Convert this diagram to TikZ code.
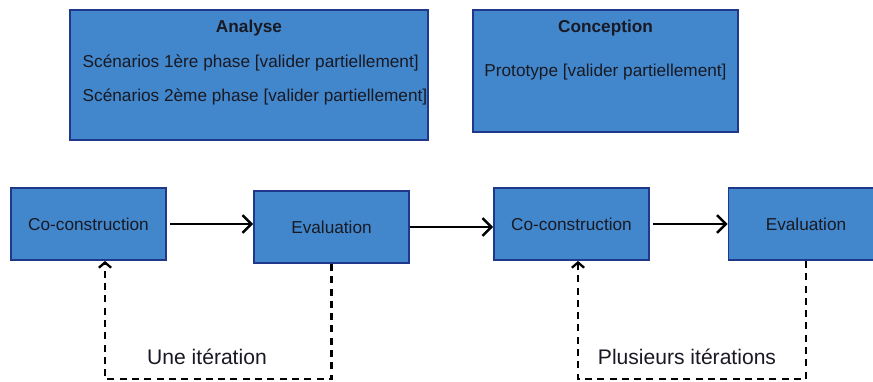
\documentclass[tikz,border=0pt]{standalone}
\usepackage{fontspec}
\setmainfont{Liberation Sans}
\usetikzlibrary{calc,arrows.meta}
\definecolor{boxblue}{RGB}{66,135,204}
\definecolor{boxedge}{RGB}{31,56,140}
\definecolor{ink}{RGB}{25,25,35}

\begin{document}
\begin{tikzpicture}[x=0.02cm,y=-0.02cm,thick,every node/.style={scale=1,text=ink},
  >={Straight Barb[length=5pt,width=10pt]},
  phase/.style={draw=boxedge,fill=boxblue,line width=1.1pt,inner sep=0pt},
  etape/.style={phase,minimum width=3.1cm,minimum height=1.44cm,font=\fontsize{9.8}{12}\selectfont},
  boxtext/.style={font=\fontsize{9.8}{12}\selectfont,inner sep=0pt},
  suite/.style={->,line width=1.4pt},
  retour/.style={-{Straight Barb[length=3pt,width=7pt]},dash pattern=on 4pt off 3pt,line width=1.3pt}]
\useasboundingbox (0,0) rectangle (873,382);
% phases du haut
\node[phase,minimum width=7.16cm,minimum height=2.6cm] (analyse) at (249,75) {};
\node[boxtext,font=\fontsize{9.8}{12}\selectfont\bfseries] (analyseT) at (249,28) {Analyse};
\node[boxtext,right] (sc1) at (82,63) {Scénarios 1ère phase [valider partiellement]};
\node[boxtext,right] (sc2) at (82,97) {Scénarios 2ème phase [valider partiellement]};
\node[phase,minimum width=5.3cm,minimum height=2.44cm] (concep) at (605.5,71) {};
\node[boxtext,font=\fontsize{9.8}{12}\selectfont\bfseries] (concepT) at (605.5,28) {Conception};
\node[boxtext] (proto) at (605.5,72) {Prototype [valider partiellement]};
% etapes
\node[etape] (co1) at (88.5,224) {Co-construction};
\node[etape] (ev1) at (331.5,227) {Evaluation};
\node[etape] (co2) at (571.5,224) {Co-construction};
\node[etape] (ev2) at (806,224) {Evaluation};
\draw[suite,shorten <=2pt] (co1.east) -- (co1.east -| ev1.west);
\draw[suite] (ev1.east) -- (ev1.east -| co2.west);
\draw[suite,shorten <=2pt] (co2.east) -- (co2.east -| ev2.west);
% iterations
\coordinate (r1) at (105,379);
\coordinate (r2) at (578,379);
\draw[retour] (ev1.south) |- (r1) -- (r1 |- co1.south);
\draw[retour] (ev2.south) |- (r2) -- (r2 |- co2.south);
\node[font=\fontsize{12}{14}\selectfont] (it1) at (207,357) {Une itération};
\node[font=\fontsize{12}{14}\selectfont] (it2) at (687,357) {Plusieurs itérations};
\end{tikzpicture}
\end{document}
